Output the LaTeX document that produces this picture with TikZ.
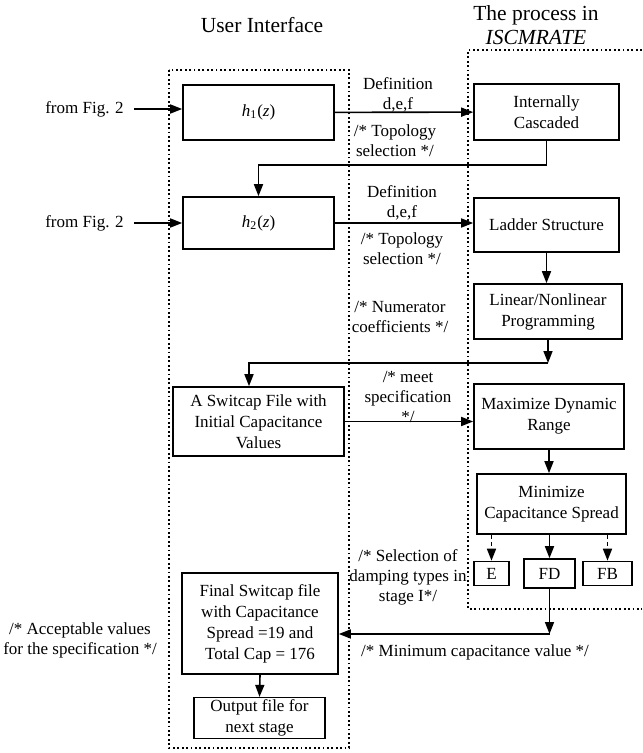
\documentclass[tikz,border=0pt]{standalone}
\usepackage{fontspec}
\setmainfont{Liberation Serif}
\usetikzlibrary{arrows.meta}

\begin{document}
\begin{tikzpicture}[x=0.5pt, y=-0.5pt, node distance=29pt, line width=0.8pt,
                    block/.style={draw, align=center, inner sep=1pt, font=\fontsize{8.5}{10.5}\selectfont},
                    note/.style={align=center, inner sep=1pt, font=\fontsize{8.5}{10}\selectfont},
                    head/.style={align=center, font=\fontsize{10.75}{12}\selectfont},
                    arr/.style={-{Triangle[length=6pt,width=4.5pt]}},
                    dsh/.style={dash pattern=on 2pt off 1.5pt},
                    dotline/.style={line width=0.9pt, dash pattern=on 0.9pt off 1.3pt}]

  \useasboundingbox (0,0) rectangle (642,753);

  % headings and frames
  \node[head] (ui) at (262,25) {User Interface};
  \node[head] (pr) at (536,25) {The process in\\\textit{ISCMRATE}};

  \draw[dotline] (169,70) rectangle (349,748);
  \draw[dotline] (642,50) -- (468,50) -- (468,609) -- (642,609);

  % user interface column
  \node[note] (f1) at (84.5,109) {from Fig. 2};
  \node[note] (f2) at (84.5,223) {from Fig. 2};
  \node[block, minimum width=75.5pt, minimum height=27.5pt] (h1) at (258.5,112.5) {\textit{h}\textsubscript{1}(\textit{z})};
  \node[block, minimum width=75.5pt, minimum height=26pt] (h2) at (258.5,223) {\textit{h}\textsubscript{2}(\textit{z})};
  \node[block, minimum width=85.5pt, minimum height=34.5pt] (sw) at (258.5,421.5) {A Switcap File with\\Initial Capacitance\\Values};
  \node[block, minimum width=78pt, minimum height=50.5pt] (fin) at (260,623.5) {Final Switcap file\\with Capacitance\\Spread =19 and\\Total Cap = 176};
  \node[block, minimum width=65.5pt, minimum height=19pt] (out) at (259.5,718) {Output file for\\next stage};

  % ISCMRATE column
  \node[block, minimum width=72.5pt, minimum height=28pt] (ic) at (546.5,112) {Internally\\Cascaded};
  \node[block, minimum width=72.5pt, minimum height=27pt] (ls) at (546.5,225) {Ladder Structure};
  \node[block, minimum width=74pt, minimum height=27.5pt] (lp) at (548,311.5) {Linear/Nonlinear\\Programming};
  \node[block, minimum width=75pt, minimum height=32.5pt] (md) at (549,416.5) {Maximize Dynamic\\Range};
  \node[block, minimum width=74.5pt, minimum height=30pt] (mc) at (551.5,504) {Minimize\\Capacitance Spread};
  \node[block, minimum width=25.5pt, minimum height=14.5pt] (fd) at (549.5,573.5) {FD};
  \node[block, minimum width=17.5pt, minimum height=12pt] (e) [left of=fd] {E};
  \node[block, minimum width=24.5pt, minimum height=12pt] (fb) [right of=fd] {FB};

  % comments
  \node[note] (d1) at (398,95) {Definition\\d,e,f};
  \node[note] (t1) at (395,141) {/* Topology\\selection */};
  \node[note] (d2) at (402,203) {Definition\\d,e,f};
  \node[note] (t2) at (402,248.5) {/* Topology\\selection */};
  \node[note] (nc) at (400,316.5) {/* Numerator\\coefficients */};
  \node[note] (ms) at (408,397) {/* meet\\specification\\*/};
  \node[note] (sd) at (408,577) {/* Selection of\\damping types in\\stage I*/};
  \node[note] (av) at (80,640) {/* Acceptable values\\for the specification */};
  \node[note] (mv) at (475,652) {/* Minimum capacitance value */};

  \coordinate (k1) at (ic.south |- 0,165);
  \coordinate (k2) at (lp.south |- 0,363);
  \coordinate (k3) at (249,363);
  \coordinate (k4) at (fd.south |- 0,634);

  \path[arr]
  (f1) edge[shorten <=4pt] (f1 -| h1.west)
  (f2) edge[shorten <=4pt] (f2 -| h2.west)
  (h1) edge (ic)
  (h2.east) edge (h2.east -| ls.west)
  (ls.south) edge (ls.south |- lp.north)
  (sw.east) edge (sw.east -| md.west)
  (md.south) edge (md.south |- mc.north)
  (mc.south -| fd.north) edge (fd.north)
  (mc.south -| e.north) edge[dsh] (e.north)
  (mc.south -| fb.north) edge[dsh] (fb.north)
  (fin.south) edge (out.north)
  ;

  \draw[arr] (ic.south) -- (k1) -| (h2.north);
  \draw[arr] (lp.south) -- (k2);
  \draw[arr] (k2) -- (k3) -- (k3 |- sw.north);
  \draw[arr] (fd.south) -- (k4);
  \draw[arr] (k4) -- (k4 -| fin.east);
\end{tikzpicture}
\end{document}
